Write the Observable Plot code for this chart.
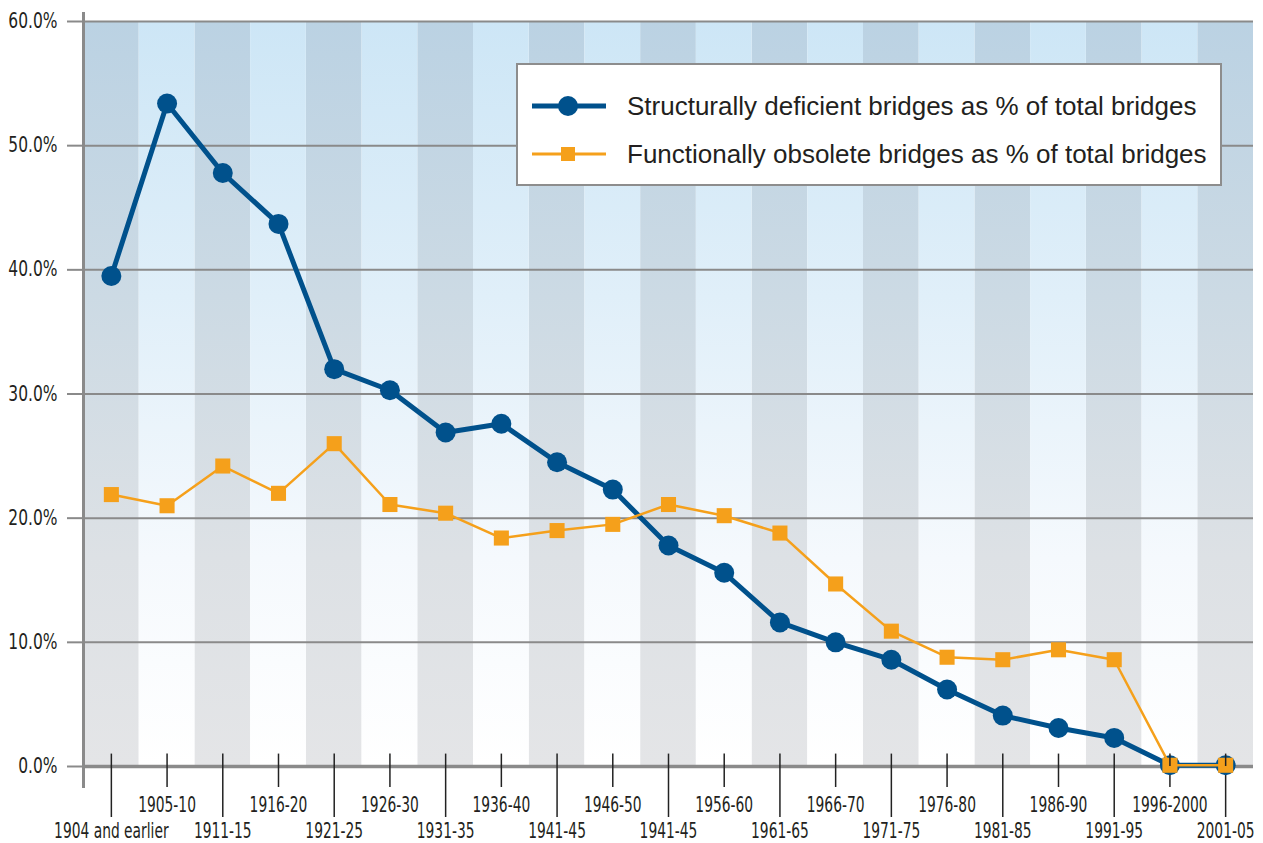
<!DOCTYPE html>
<html>
<head>
<meta charset="utf-8">
<script src="https://cdn.jsdelivr.net/npm/d3@7"></script>
<script src="https://cdn.jsdelivr.net/npm/@observablehq/plot@0.6"></script>
<style>
  body { margin: 0; background: #ffffff; }
  #wrap { position: relative; width: 1263px; height: 843px; }
  #legend {
    position: absolute; left: 516px; top: 63px; width: 702px; height: 119px;
    border: 2px solid #8d8d8d; background: #ffffff;
    font-family: "Liberation Sans", "DejaVu Sans", sans-serif; font-size: 26px; color: #231f20;
  }
  .row { position: absolute; left: 0; height: 30px; width: 100%; }
  .row svg { position: absolute; left: 14px; top: 0; }
  .row span { position: absolute; left: 109px; top: 50%; transform: translateY(-50%); white-space: nowrap; }
</style>
</head>
<body>
<div id="wrap"></div>
<script>
// ---- data ----
const periods = [
  "1904 and earlier", "1905-10", "1911-15", "1916-20", "1921-25", "1926-30",
  "1931-35", "1936-40", "1941-45", "1946-50", "1941-45", "1956-60", "1961-65",
  "1966-70", "1971-75", "1976-80", "1981-85", "1986-90", "1991-95", "1996-2000", "2001-05"
];
const structurallyDeficient = [
  39.5, 53.4, 47.8, 43.7, 32.0, 30.3, 26.9, 27.6, 24.5, 22.3, 17.8, 15.6, 11.6,
  10.0, 8.6, 6.2, 4.1, 3.1, 2.3, 0.1, 0.1
];
const functionallyObsolete = [
  21.9, 21.0, 24.2, 22.0, 26.0, 21.1, 20.4, 18.4, 19.0, 19.5, 21.1, 20.2, 18.8,
  14.7, 10.9, 8.8, 8.6, 9.4, 8.6, 0.1, 0.1
];
const yTicks = [0, 10, 20, 30, 40, 50, 60];
const seriesNames = [
  "Structurally deficient bridges as % of total bridges",
  "Functionally obsolete bridges as % of total bridges"
];

const blue = "#00518c";
const orange = "#f5a01b";
const gridGrey = "#8a8a8a";
const ink = "#231f20";
const narrow = "'DejaVu Sans Condensed', 'Liberation Sans Narrow', sans-serif";

const idx = periods.map((_, i) => i);
const evenIdx = idx.filter(i => i % 2 === 0);
const oddIdx = idx.filter(i => i % 2 === 1);
const sd = idx.map(i => ({i, v: structurallyDeficient[i]}));
const fo = idx.map(i => ({i, v: functionallyObsolete[i]}));

const chart = Plot.plot({
  width: 1263,
  height: 843,
  marginLeft: 83,
  marginRight: 10,
  marginTop: 21,
  marginBottom: 77,
  style: { fontFamily: narrow, fontSize: "20px", color: ink, background: "transparent", overflow: "visible" },
  x: { type: "band", domain: idx, padding: 0, round: false },
  y: { domain: [0, 60] },
  marks: [
    // alternating background bands
    Plot.barY(evenIdx, { x: d => d, y1: 0, y2: 60, fill: "url(#gDark)", inset: 0 }),
    Plot.barY(oddIdx, { x: d => d, y1: 0, y2: 60, fill: "url(#gLight)", inset: 0 }),
    // grid lines
    Plot.ruleY(yTicks.filter(d => d > 0), { stroke: gridGrey, strokeWidth: 2 }),
    Plot.ruleY([0], { stroke: gridGrey, strokeWidth: 3.5 }),
    // y axis
    Plot.axisY(yTicks, {
      tickSize: 16, tickPadding: 10, stroke: gridGrey, strokeWidth: 2,
      fill: ink, fontSize: 20.5, tickFormat: d => d.toFixed(1) + "%", label: null
    }),
    Plot.frame({ anchor: "left", stroke: gridGrey, strokeWidth: 3, insetTop: -8, insetBottom: -20 }),
    // x axis (two staggered rows)
    Plot.axisX(oddIdx, {
      tickSize: 21, tickPadding: 10, stroke: "#222", strokeWidth: 1.5,
      fill: ink, fontSize: 20.5, tickFormat: i => periods[i], label: null
    }),
    Plot.axisX(evenIdx, {
      tickSize: 51, tickPadding: 6, stroke: "#222", strokeWidth: 1.5,
      fill: ink, fontSize: 20.5, tickFormat: i => periods[i], label: null
    }),
    // series
    Plot.lineY(sd, { x: "i", y: "v", stroke: blue, strokeWidth: 5 }),
    Plot.dot(sd, { x: "i", y: "v", r: 10, fill: blue, stroke: "none" }),
    Plot.lineY(fo, { x: "i", y: "v", stroke: orange, strokeWidth: 2.5 }),
    Plot.dot(fo, { x: "i", y: "v", symbol: "square", r: 8.5, fill: orange, stroke: "none" }),
    // tick stubs above the baseline
    Plot.ruleX(idx, { x: d => d, y1: 0, y2: 1, stroke: "#222", strokeWidth: 1.5 })
  ]
});

// gradient definitions for the background bands
const svg = d3.select(chart);
const defs = svg.insert("defs", ":first-child");
function grad(id, stops) {
  const g = defs.append("linearGradient").attr("id", id)
    .attr("x1", 0).attr("y1", 0).attr("x2", 0).attr("y2", 1);
  stops.forEach(([o, c]) => g.append("stop").attr("offset", o).attr("stop-color", c));
}
grad("gLight", [[0, "#cde6f6"], [0.37, "#e0eff9"], [0.72, "#f5f9fd"], [1, "#ffffff"]]);
grad("gDark", [[0, "#bbd2e3"], [0.37, "#ccdae4"], [0.72, "#dde1e5"], [1, "#e4e5e7"]]);

const wrap = document.getElementById("wrap");
wrap.appendChild(chart);

// condense the axis labels horizontally (reference uses a condensed face)
function squeezeText(selector, k) {
  svg.selectAll(selector).each(function () {
    const t = this.getAttribute("transform");
    if (t) {
      this.setAttribute("transform", `${t} scale(${k},1)`);
    } else {
      const x = +this.getAttribute("x") || 0;
      const y = +this.getAttribute("y") || 0;
      this.setAttribute("x", 0);
      this.setAttribute("y", 0);
      this.setAttribute("transform", `translate(${x},${y}) scale(${k},1)`);
    }
  });
}
squeezeText("g[aria-label='x-axis tick label'] text", 0.75);
squeezeText("g[aria-label='y-axis tick label'] text", 0.84);

// legend (inside plot area)
const legend = document.createElement("div");
legend.id = "legend";
legend.innerHTML = `
  <div class="row" style="top:26px">
    <svg width="80" height="30"><line x1="0" x2="74" y1="15" y2="15" stroke="${blue}" stroke-width="5"/><circle cx="36" cy="15" r="10" fill="${blue}"/></svg>
    <span>${seriesNames[0]}</span>
  </div>
  <div class="row" style="top:74px">
    <svg width="80" height="30"><line x1="0" x2="74" y1="15" y2="15" stroke="${orange}" stroke-width="3"/><rect x="29" y="8" width="14" height="14" fill="${orange}"/></svg>
    <span>${seriesNames[1]}</span>
  </div>`;
wrap.appendChild(legend);
</script>
</body>
</html>
